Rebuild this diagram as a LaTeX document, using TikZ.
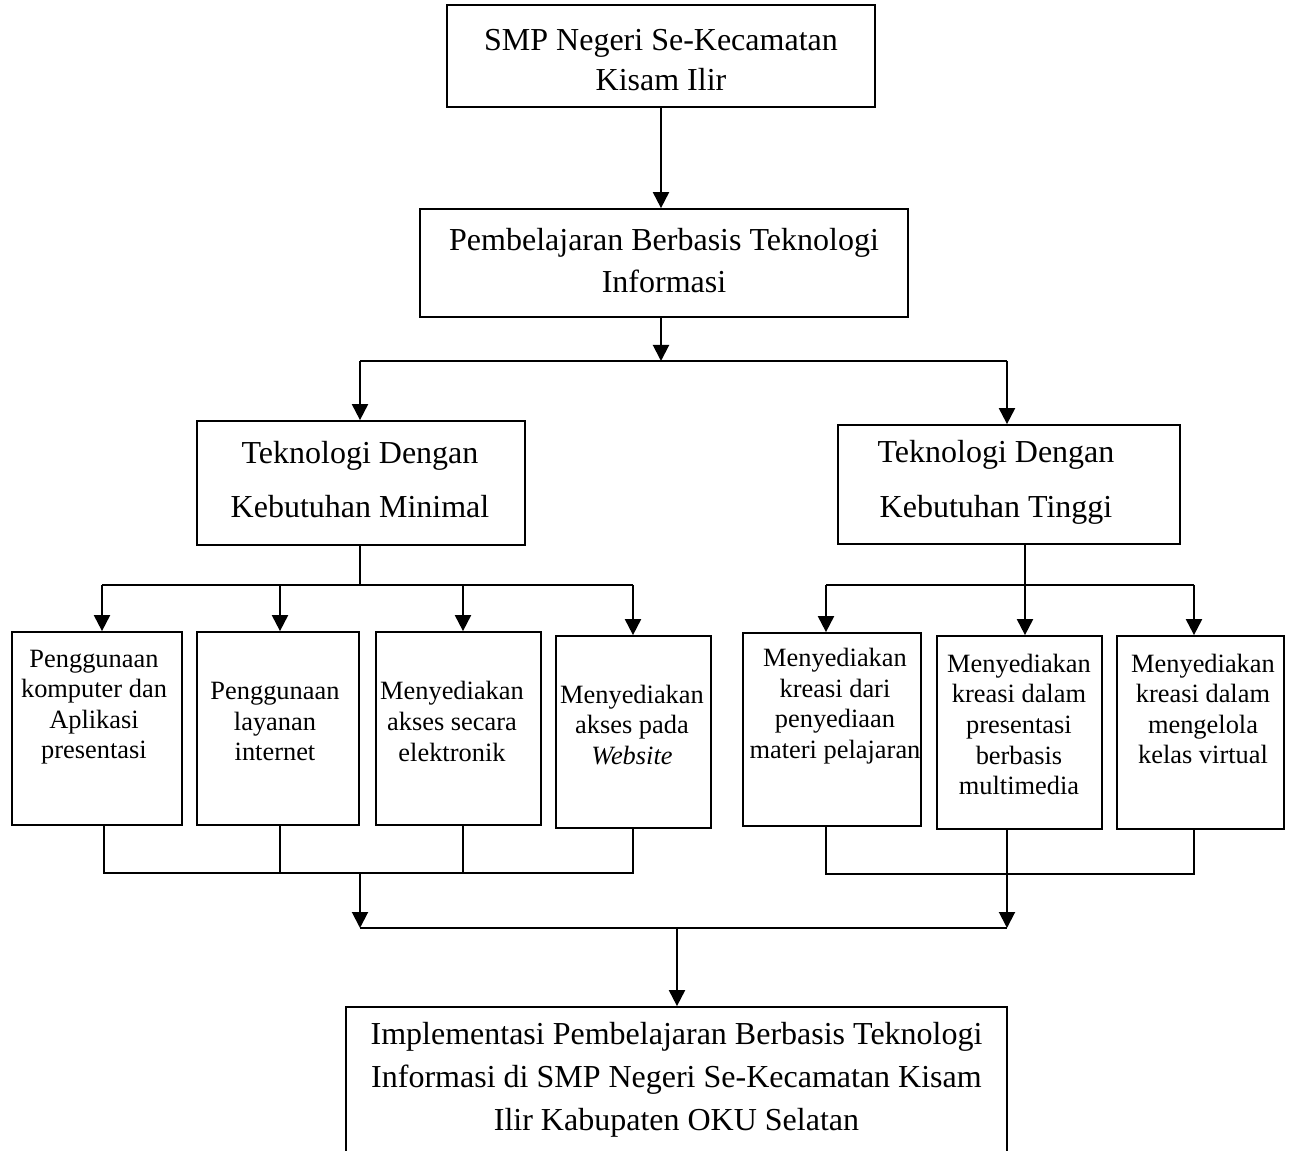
\documentclass[tikz,border=0pt]{standalone}
\usepackage{fontspec}
\setmainfont{Liberation Serif}
\usetikzlibrary{arrows.meta}
\begin{document}
\begin{tikzpicture}[x=0.75pt,y=-0.75pt,
  bx/.style 2 args={draw,line width=1.3pt,inner sep=0pt,minimum width=#1*0.75pt,minimum height=#2*0.75pt},
  txt/.style={align=center,inner sep=0pt},
  sm/.style={font=\fontsize{19.8}{22.9}\selectfont},
  con/.style={line width=1.5pt},
  arr/.style={con,-{Triangle[length=12pt,width=12pt]}}]
\useasboundingbox (0,0) rectangle (1290,1151);
\clip (0,0) rectangle (1290,1151);

% top levels
\node[bx={428}{102}] (top) at (661,56) {};
\node[txt,font=\fontsize{24}{30}\selectfont] (topt) at (661,60) {SMP Negeri Se-Kecamatan\\Kisam Ilir};
\node[bx={488}{108}] (pb) at (664,263) {};
\node[txt,font=\fontsize{24}{31.5}\selectfont] (pbt) at (664,261) {Pembelajaran Berbasis Teknologi\\Informasi};

\node[bx={328}{124}] (min) at (361,483) {};
\node[txt,font=\fontsize{24}{41}\selectfont] (mint) at (360,479.5) {Teknologi Dengan\\Kebutuhan Minimal};
\node[bx={342}{119}] (hi) at (1009,484.5) {};
\node[txt,font=\fontsize{24}{41}\selectfont] (hit) at (996,482.5) {Teknologi Dengan\\Kebutuhan Tinggi};

% small boxes left
\node[bx={170}{193}] (b1) at (97,728.5) {};
\node[txt,sm] (b1t) at (94,707) {Penggunaan\\komputer dan\\Aplikasi\\presentasi};
\node[bx={162}{193}] (b2) at (278,728.5) {};
\node[txt,sm] (b2t) at (275,721.5) {Penggunaan\\layanan\\internet};
\node[bx={165}{193}] (b3) at (458.5,728.5) {};
\node[txt,sm] (b3t) at (452,721.5) {Menyediakan\\akses secara\\elektronik};
\node[bx={155}{192}] (b4) at (633.5,732) {};
\node[txt,sm] (b4t) at (632,725) {Menyediakan\\akses pada\\\textit{Website}};

% small boxes right
\node[bx={178}{193}] (r1) at (832,729.5) {};
\node[txt,sm] (r1t) at (835,706) {Menyediakan\\kreasi dari\\penyediaan\\materi pelajaran};
\node[bx={165}{193}] (r2) at (1019.5,732.5) {};
\node[txt,sm] (r2t) at (1019,724.5) {Menyediakan\\kreasi dalam\\presentasi\\berbasis\\multimedia};
\node[bx={167}{193}] (r3) at (1200.5,732.5) {};
\node[txt,sm] (r3t) at (1203,709) {Menyediakan\\kreasi dalam\\mengelola\\kelas virtual};

% bottom box
\node[bx={661}{158}] (bot) at (676.5,1086) {};
\node[txt,font=\fontsize{24}{32.3}\selectfont] (bott) at (676.5,1080) {Implementasi Pembelajaran Berbasis Teknologi\\Informasi di SMP Negeri Se-Kecamatan Kisam\\Ilir Kabupaten OKU Selatan};

% connectors level 1-2
\draw[arr] (top.south) -- (top.south |- pb.north);
\coordinate (j1) at (661,361);
\coordinate (jL) at (360,361);
\coordinate (jR) at (1007,361);
\draw[arr] (j1 |- pb.south) -- (j1);
\draw[con] (jL) -- (jR);
\draw[arr] (jL) -- (jL |- min.north);
\draw[arr] (jR) -- (jR |- hi.north);

% level 3 left
\coordinate (m1) at (360,585);
\coordinate (ml) at (102,585);
\coordinate (a2) at (280,585);
\coordinate (a3) at (463,585);
\coordinate (mr) at (633,585);
\draw[con] (m1 |- min.south) -- (m1);
\draw[con] (ml) -- (mr);
\draw[arr] (ml) -- (ml |- b1.north);
\draw[arr] (a2) -- (a2 |- b2.north);
\draw[arr] (a3) -- (a3 |- b3.north);
\draw[arr] (mr) -- (mr |- b4.north);

% level 3 right
\coordinate (h1) at (1025,585);
\coordinate (hl) at (826,585);
\coordinate (hr) at (1194,585);
\draw[con] (h1 |- hi.south) -- (h1);
\draw[con] (hl) -- (hr);
\draw[arr] (hl) -- (hl |- r1.north);
\draw[arr] (h1) -- (h1 |- r2.north);
\draw[arr] (hr) -- (hr |- r3.north);

% bottom collection left
\coordinate (c1) at (104,873);
\coordinate (c2) at (280,873);
\coordinate (c3) at (463,873);
\coordinate (c4) at (633,873);
\coordinate (cm) at (360,873);
\draw[con] (c1 |- b1.south) -- (c1) -- (c4) -- (c4 |- b4.south);
\draw[con] (c2 |- b2.south) -- (c2);
\draw[con] (c3 |- b3.south) -- (c3);

% bottom collection right
\coordinate (d1) at (826,874);
\coordinate (d2) at (1007,874);
\coordinate (d3) at (1194,874);
\draw[con] (d1 |- r1.south) -- (d1) -- (d3) -- (d3 |- r3.south);
\draw[con] (d2 |- r2.south) -- (d2);

% final merge
\coordinate (eL) at (360,928);
\coordinate (eR) at (1007,928);
\coordinate (em) at (677,928);
\draw[arr] (cm) -- (eL);
\draw[arr] (d2) -- (eR);
\draw[con] (eL) -- (eR);
\draw[arr] (em) -- (em |- bot.north);
\end{tikzpicture}
\end{document}
